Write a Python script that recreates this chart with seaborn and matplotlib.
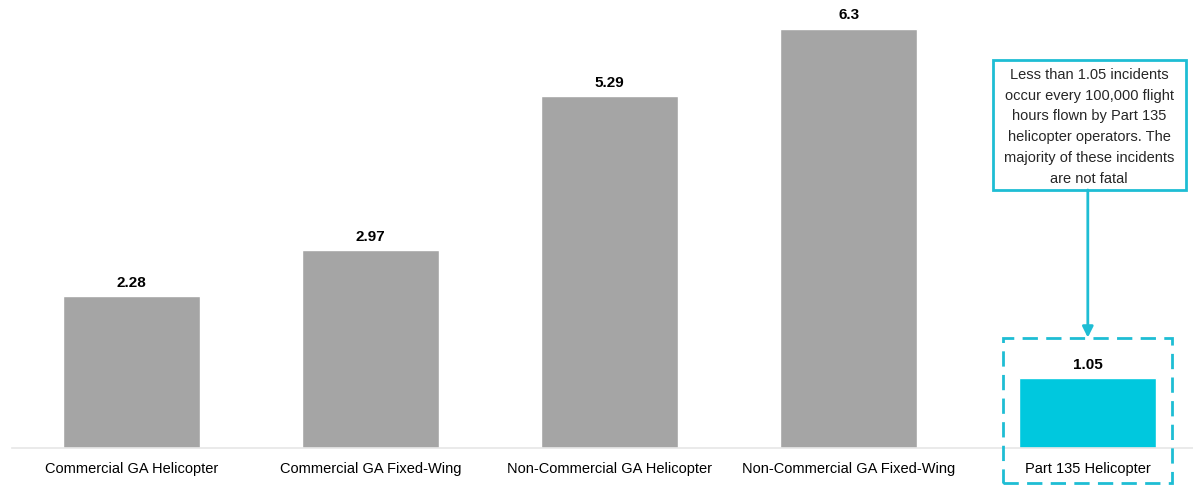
import matplotlib
matplotlib.use('Agg')
import matplotlib.pyplot as plt
import seaborn as sns
import pandas as pd
from matplotlib.patches import Rectangle

categories = ['Commercial GA Helicopter', 'Commercial GA Fixed-Wing',
              'Non-Commercial GA Helicopter', 'Non-Commercial GA Fixed-Wing',
              'Part 135 Helicopter']
rates = [2.28, 2.97, 5.29, 6.3, 1.05]
value_labels = ['2.28', '2.97', '5.29', '6.3', '1.05']
bar_colors = ['#A5A5A5', '#A5A5A5', '#A5A5A5', '#A5A5A5', '#00C8DE']
note = ('Less than 1.05 incidents\noccur every 100,000 flight\n'
        'hours flown by Part 135\nhelicopter operators. The\n'
        'majority of these incidents\nare not fatal')

cyan = '#1EBDD4'

sns.set_style('white')
plt.rcParams['font.family'] = ['Liberation Sans', 'DejaVu Sans']

df = pd.DataFrame({'category': categories, 'rate': rates})

fig = plt.figure(figsize=(11.93, 4.87), dpi=100)
ax = fig.add_axes([12 / 1193, 39 / 487, 1 - 12 / 1193, 448 / 487])
sns.barplot(data=df, x='category', y='rate', hue='category', palette=bar_colors,
            width=0.573, legend=False, saturation=1, ax=ax)

for i, (v, lab) in enumerate(zip(rates, value_labels)):
    ax.text(i, v + 0.1, lab, ha='center', va='bottom', fontsize=11,
            fontweight='bold', color='black')

ax.set_xlim(-0.5, 4.44)
ax.set_ylim(0, 448 / 66.5)
ax.set_xlabel('')
ax.set_ylabel('')
ax.set_yticks([])
ax.tick_params(axis='x', length=0, pad=10, labelsize=10.5, colors='#000000')
for s in ['top', 'right', 'left']:
    ax.spines[s].set_visible(False)
ax.spines['bottom'].set_color('#E6E6E6')
ax.spines['bottom'].set_linewidth(1.2)

# note box
ax.add_patch(Rectangle((3.603, 3.88), 0.807, 1.955, facecolor='white',
                       edgecolor=cyan, linewidth=2, clip_on=False, zorder=3))
ax.text(4.005, 4.83, note, ha='center', va='center', fontsize=10.5,
        linespacing=1.62, zorder=4)

# arrow to highlighted bar
ax.annotate('', xy=(4, 1.66), xytext=(4, 3.88),
            arrowprops=dict(arrowstyle='-|>', color=cyan, lw=2,
                            mutation_scale=16, shrinkA=0, shrinkB=0))

# dashed highlight box
ax.add_patch(Rectangle((3.644, -0.53), 0.707, 2.18, facecolor='none',
                       edgecolor=cyan, linewidth=2, linestyle=(0, (5.5, 3)),
                       clip_on=False, zorder=3))

fig.savefig('out.png', dpi=100)
